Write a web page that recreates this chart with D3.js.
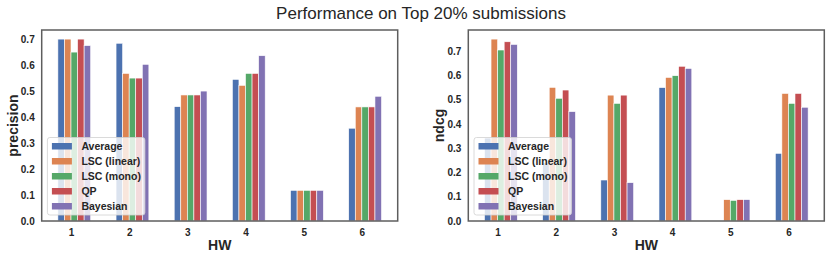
<!DOCTYPE html>
<html><head><meta charset="utf-8">
<script src="https://cdn.jsdelivr.net/npm/d3@7"></script>
<style>
body{margin:0;background:#fff;}
svg text{font-family:"Liberation Sans",Arial,sans-serif;}
</style></head>
<body>
<svg id="chart" width="830" height="258"></svg>
<script>
const hws = [1, 2, 3, 4, 5, 6];
const methods = ["Average", "LSC (linear)", "LSC (mono)", "QP", "Bayesian"];
const colors = ["#4C72B0", "#DD8452", "#55A868", "#C44E52", "#8172B3"];
const precision = {
  "Average":      [0.700, 0.684, 0.440, 0.545, 0.118, 0.357],
  "LSC (linear)": [0.700, 0.568, 0.485, 0.522, 0.118, 0.439],
  "LSC (mono)":   [0.650, 0.550, 0.485, 0.568, 0.118, 0.439],
  "QP":           [0.700, 0.550, 0.485, 0.568, 0.118, 0.439],
  "Bayesian":     [0.675, 0.603, 0.500, 0.636, 0.118, 0.480]
};
const ndcg = {
  "Average":      [0.342, 0.240, 0.169, 0.550, 0.000, 0.279],
  "LSC (linear)": [0.750, 0.551, 0.519, 0.592, 0.088, 0.526],
  "LSC (mono)":   [0.705, 0.506, 0.485, 0.599, 0.085, 0.485],
  "QP":           [0.739, 0.540, 0.519, 0.638, 0.088, 0.526],
  "Bayesian":     [0.728, 0.451, 0.158, 0.629, 0.088, 0.469]
};
const yTicks = [0.0, 0.1, 0.2, 0.3, 0.4, 0.5, 0.6, 0.7];
const titleText = "Performance on Top 20% submissions";

const svg = d3.select("#chart");
const W = 0.1128; // bar width in x units

svg.append("text").attr("x", 421).attr("y", 19).attr("text-anchor", "middle")
  .attr("font-size", 17).attr("fill", "#262626").text(titleText);

function panel(left, right, top, bottom, data, ylabel, ylabX) {
  const g = svg.append("g");
  const lo0 = hws[0] - W / 2, hi0 = hws[hws.length - 1] + (methods.length - 1) * W + W / 2;
  const m = 0.05 * (hi0 - lo0);
  const x = d3.scaleLinear().domain([lo0 - m, hi0 + m]).range([left, right]);
  const allVals = methods.flatMap(k => data[k]);
  const y = d3.scaleLinear().domain([0, d3.max(allVals) * 1.05]).range([bottom, top]);

  methods.forEach((meth, i) => {
    g.selectAll(null).data(data[meth]).enter().append("rect")
      .attr("x", (d, j) => x(hws[j] + i * W - W / 2))
      .attr("width", x(W) - x(0))
      .attr("y", d => y(d))
      .attr("height", d => y(0) - y(d))
      .attr("fill", colors[i])
      .attr("stroke", d => d > 0 ? "#fff" : "none").attr("stroke-width", 0.6);
  });

  const xa = d3.axisBottom(x).tickValues(hws.map(h => h + 1.5 * W)).tickFormat((d, j) => hws[j]).tickSize(0).tickPadding(8);
  const xg = g.append("g").attr("transform", `translate(0,${bottom})`).call(xa);
  xg.select(".domain").remove();
  xg.selectAll("text").attr("font-size", 10).attr("font-weight", "bold").attr("fill", "#262626").attr("font-family", '"Liberation Sans",Arial,sans-serif');

  const ya = d3.axisLeft(y).tickValues(yTicks).tickFormat(d3.format(".1f")).tickSize(0).tickPadding(7);
  const yg = g.append("g").attr("transform", `translate(${left},0)`).call(ya);
  yg.select(".domain").remove();
  yg.selectAll("text").attr("font-size", 10).attr("font-weight", "bold").attr("fill", "#262626").attr("font-family", '"Liberation Sans",Arial,sans-serif');

  g.append("rect").attr("x", left).attr("y", top).attr("width", right - left).attr("height", bottom - top)
    .attr("fill", "none").attr("stroke", "#5e5e5e").attr("stroke-width", 1.5);

  g.append("text").attr("x", (left + right) / 2).attr("y", 250).attr("text-anchor", "middle")
    .attr("font-size", 14).attr("font-weight", "bold").attr("fill", "#262626").text("HW");
  g.append("text").attr("transform", `translate(${ylabX},${(top + bottom) / 2}) rotate(-90)`)
    .attr("text-anchor", "middle").attr("font-size", 14).attr("font-weight", "bold").attr("fill", "#262626").text(ylabel);

  const lx = left + 5.7, ly = 137.5, lw = 97.5, lh = 77.5;
  const lg = g.append("g");
  lg.append("rect").attr("x", lx).attr("y", ly).attr("width", lw).attr("height", lh).attr("rx", 2.5)
    .attr("fill", "#fff").attr("fill-opacity", 0.8).attr("stroke", "#d0d0d0").attr("stroke-width", 0.8);
  methods.forEach((meth, i) => {
    const cy = ly + 8.5 + i * 15;
    lg.append("rect").attr("x", lx + 4.5).attr("y", cy - 3).attr("width", 20).attr("height", 6.5)
      .attr("fill", colors[i]);
    lg.append("text").attr("x", lx + 34).attr("y", cy + 4).attr("font-size", 10.5).attr("font-weight", "bold")
      .attr("fill", "#262626").text(meth);
  });
}

panel(41.7, 397.7, 30, 221, precision, "precision", 17.5);
panel(468.3, 824.3, 30, 221, ndcg, "ndcg", 443.5);
</script>
</body></html>
